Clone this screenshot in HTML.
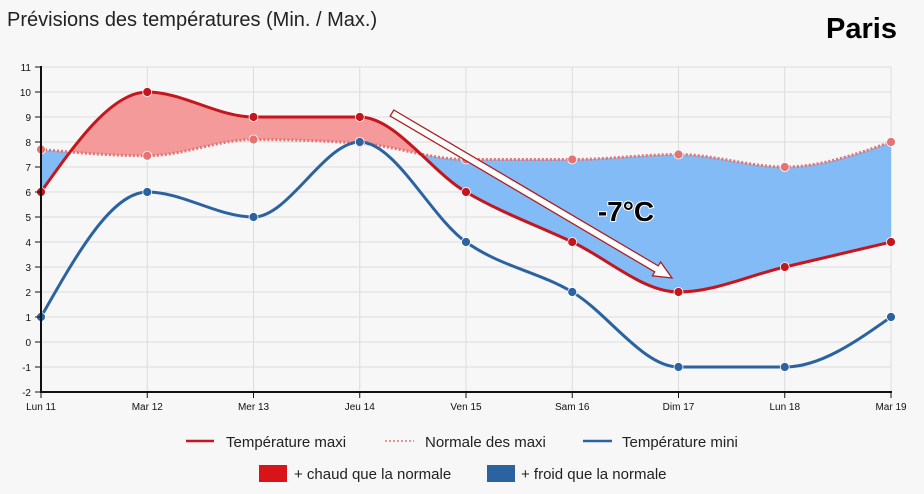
<!DOCTYPE html>
<html><head><meta charset="utf-8"><style>
html,body{margin:0;padding:0;background:#f7f7f7;width:924px;height:494px;overflow:hidden;font-family:"Liberation Sans",sans-serif}
</style></head><body>
<svg id="s" width="924" height="494" xmlns="http://www.w3.org/2000/svg" style="position:absolute;left:0;top:0">
<rect width="924" height="494" fill="#f7f7f7"/>
<text x="7" y="26" font-size="20" fill="#222">Prévisions des températures (Min. / Max.)</text>
<text x="897" y="38" font-size="29" font-weight="bold" text-anchor="end" fill="#000">Paris</text>
<g id="grid"></g>
<defs>
<clipPath id="belowMax"><path id="cpBM"/></clipPath>
<clipPath id="aboveNorm"><path id="cpAN"/></clipPath>
<clipPath id="belowNorm"><path id="cpBN"/></clipPath>
<clipPath id="aboveMax"><path id="cpAM"/></clipPath>
</defs>
<g clip-path="url(#aboveNorm)"><path id="redFill" fill="#f59a9a" clip-path="url(#belowMax)"/></g>
<g clip-path="url(#aboveMax)"><path id="blueFill" fill="#82bbf5" clip-path="url(#belowNorm)"/></g>
<path id="normL" fill="none" stroke="#e57373" stroke-width="3" stroke-dasharray="2,2"/>
<path id="minL" fill="none" stroke="#2b62a0" stroke-width="3"/>
<path id="maxL" fill="none" stroke="#c4161c" stroke-width="3"/>
<g id="dots"></g>
<g id="axes"></g>
<polygon points="393.8,110 658.3,265.9 660.6,262 672,278 652.4,275.8 654.7,271.9 390.2,116" fill="#fff" stroke="#b02020" stroke-width="1.3"/>
<text x="626" y="221" font-size="28" style="font-weight:700;paint-order:stroke" stroke="#fff" stroke-width="2" text-anchor="middle" fill="#000">-7°C</text>
<line x1="186" y1="441" x2="214" y2="441" stroke="#c4161c" stroke-width="2.5"/>
<text x="226" y="447" font-size="15" fill="#222">Température maxi</text>
<line x1="385" y1="441" x2="414" y2="441" stroke="#e57373" stroke-width="1.5" stroke-dasharray="2,2"/>
<text x="425" y="447" font-size="15" fill="#222">Normale des maxi</text>
<line x1="583" y1="441" x2="612" y2="441" stroke="#2b62a0" stroke-width="2.5"/>
<text x="622" y="447" font-size="15" fill="#222">Température mini</text>
<rect x="259" y="465" width="28" height="17" fill="#d81418"/>
<text x="294" y="479" font-size="15" fill="#222">+ chaud que la normale</text>
<rect x="487" y="465" width="28" height="17" fill="#2b62a0"/>
<text x="521" y="479" font-size="15" fill="#222">+ froid que la normale</text>
</svg>
<script>
var X=function(i){return 41+i*106.25}, Y=function(v){return 342-25*v};
var mx=[6,10,9,9,6,4,2,3,4], nm=[7.7,7.45,8.1,7.95,7.3,7.3,7.5,7.0,8.0], mn=[1,6,5,8,4,2,-1,-1,1];
var days=["Lun 11","Mar 12","Mer 13","Jeu 14","Ven 15","Sam 16","Dim 17","Lun 18","Mar 19"];
function pts(a){return a.map(function(v,i){return [X(i),Y(v)]})}
function mono(p){var n=p.length,d=[],m=[],i;for(i=0;i<n-1;i++)d.push((p[i+1][1]-p[i][1])/(p[i+1][0]-p[i][0]));
for(i=1;i<n-1;i++){if(d[i-1]*d[i]<=0)m[i]=0;else{var h0=p[i][0]-p[i-1][0],h1=p[i+1][0]-p[i][0];var s=(d[i-1]*h1+d[i]*h0)/(h0+h1);m[i]=(Math.sign(d[i-1])+Math.sign(d[i]))*Math.min(Math.abs(d[i-1]),Math.abs(d[i]),0.5*Math.abs(s));}}
m[0]=(3*d[0]-m[1])/2;m[n-1]=(3*d[n-2]-m[n-2])/2;
var s="M"+p[0][0]+","+p[0][1];for(i=0;i<n-1;i++){var h=(p[i+1][0]-p[i][0])/3;s+="C"+(p[i][0]+h)+","+(p[i][1]+h*m[i])+" "+(p[i+1][0]-h)+","+(p[i+1][1]-h*m[i+1])+" "+p[i+1][0]+","+p[i+1][1];}return s;}
var M=mono(pts(mx)),N=mono(pts(nm)),m2=mono(pts(mn));
var x0=X(0),x1=X(8);
function $(id){return document.getElementById(id)}
$("cpBM").setAttribute("d",M+"L"+x1+",400L"+x0+",400Z");
$("cpAM").setAttribute("d",M+"L"+x1+",60L"+x0+",60Z");
$("cpBN").setAttribute("d",N+"L"+x1+",400L"+x0+",400Z");
$("cpAN").setAttribute("d",N+"L"+x1+",60L"+x0+",60Z");
$("redFill").setAttribute("d","M"+x0+",60H"+x1+"V400H"+x0+"Z");
$("blueFill").setAttribute("d","M"+x0+",60H"+x1+"V400H"+x0+"Z");
$("maxL").setAttribute("d",M);$("normL").setAttribute("d",N);$("minL").setAttribute("d",m2);
var h="";
for(var v=-1;v<=11;v++)h+='<line x1="41" x2="891" y1="'+Y(v)+'" y2="'+Y(v)+'" stroke="#dcdcdc" stroke-width="1"/>';
for(var i=1;i<9;i++)h+='<line x1="'+X(i)+'" x2="'+X(i)+'" y1="67" y2="392" stroke="#dcdcdc" stroke-width="1"/>';
$("grid").innerHTML=h;
var d="";
function dot(a,c){a.forEach(function(v,i){d+='<circle cx="'+X(i)+'" cy="'+Y(v)+'" r="4.5" fill="'+c+'" stroke="#fff" stroke-width="0.8"/>'})}
dot(nm,"#e57373");dot(mn,"#2b62a0");dot(mx,"#c4161c");$("dots").innerHTML=d;
var a='<line x1="41" y1="66" x2="41" y2="393" stroke="#111" stroke-width="2"/><line x1="40" y1="392" x2="892" y2="392" stroke="#111" stroke-width="2"/>';
for(v=-2;v<=11;v++)a+='<line x1="35" x2="41" y1="'+Y(v)+'" y2="'+Y(v)+'" stroke="#111"/><text x="31" y="'+(Y(v)+4)+'" font-size="10" text-anchor="end" fill="#111">'+v+'</text>';
for(i=0;i<9;i++)a+='<line x1="'+X(i)+'" x2="'+X(i)+'" y1="392" y2="398" stroke="#111"/><text x="'+X(i)+'" y="410" font-size="10" text-anchor="middle" fill="#111">'+days[i]+'</text>';
$("axes").innerHTML=a;
</script>
</body></html>
